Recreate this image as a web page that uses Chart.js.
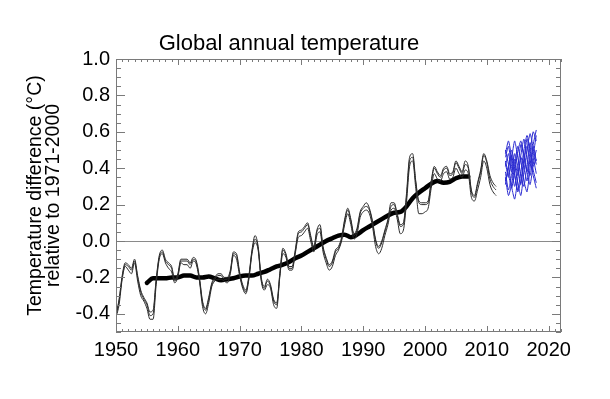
<!DOCTYPE html>
<html>
<head>
<meta charset="utf-8">
<script src="https://cdn.jsdelivr.net/npm/chart.js@4.4.1/dist/chart.umd.min.js"></script>
<style>
  body { margin: 0; background: #fff; }
</style>
</head>
<body>
<canvas id="tempChart" width="610" height="399"></canvas>
<script>
const chartTitle = "Global annual temperature";
const yTitle = ["Temperature difference (°C)", "relative to 1971-2000"];
const xTickValues = [1950, 1960, 1970, 1980, 1990, 2000, 2010, 2020];
const yTickValues = [-0.4, -0.2, 0.0, 0.2, 0.4, 0.6, 0.8, 1.0];

// observed anomalies, three datasets, half-year steps from 1950.0
const obsStart = 1950;
const obsStep = 0.5;
const obsA = [
  -0.41, -0.33, -0.20, -0.13, -0.14, -0.16, -0.11, -0.20, -0.28, -0.32,
  -0.35, -0.41, -0.40, -0.22, -0.09, -0.06, -0.11, -0.13, -0.15, -0.22,
  -0.19, -0.11, -0.11, -0.11, -0.13, -0.10, -0.12, -0.21, -0.34, -0.38,
  -0.32, -0.24, -0.21, -0.19, -0.19, -0.21, -0.21, -0.17, -0.07, -0.08,
  -0.18, -0.25, -0.28, -0.20, -0.06, 0.01, -0.04, -0.21, -0.26, -0.22,
  -0.25, -0.33, -0.35, -0.19, -0.05, -0.08, -0.15, -0.15, -0.06, 0.04,
  0.05, 0.07, 0.09, 0.02, -0.04, 0.05, 0.07, -0.04, -0.10, -0.14,
  -0.12, -0.06, -0.04, 0.01, 0.11, 0.17, 0.11, 0.03, 0.06, 0.15,
  0.18, 0.19, 0.17, 0.10, 0.00, -0.04, -0.01, 0.05, 0.11, 0.19,
  0.20, 0.14, 0.08, 0.09, 0.24, 0.44, 0.46, 0.32, 0.21, 0.20,
  0.20, 0.21, 0.32, 0.40, 0.37, 0.35, 0.39, 0.40, 0.36, 0.37,
  0.43, 0.40, 0.37, 0.42, 0.40, 0.27, 0.24, 0.31, 0.38, 0.47,
  0.43, 0.34, 0.30, 0.28
];
const obsB = [
  -0.42, -0.35, -0.21, -0.14, -0.16, -0.18, -0.12, -0.22, -0.30, -0.33,
  -0.37, -0.43, -0.43, -0.24, -0.10, -0.07, -0.12, -0.15, -0.17, -0.23,
  -0.20, -0.12, -0.13, -0.13, -0.15, -0.11, -0.13, -0.22, -0.36, -0.40,
  -0.34, -0.25, -0.22, -0.21, -0.21, -0.22, -0.23, -0.18, -0.08, -0.10,
  -0.19, -0.26, -0.29, -0.21, -0.07, -0.01, -0.05, -0.22, -0.27, -0.24,
  -0.26, -0.35, -0.37, -0.20, -0.07, -0.09, -0.16, -0.16, -0.07, 0.02,
  0.03, 0.05, 0.07, 0.00, -0.06, 0.03, 0.05, -0.06, -0.12, -0.16,
  -0.14, -0.08, -0.05, 0.00, 0.09, 0.15, 0.09, 0.01, 0.04, 0.13,
  0.16, 0.17, 0.15, 0.08, -0.03, -0.07, -0.04, 0.03, 0.09, 0.17,
  0.18, 0.12, 0.04, 0.06, 0.21, 0.41, 0.44, 0.29, 0.15, 0.15,
  0.16, 0.18, 0.29, 0.37, 0.34, 0.33, 0.37, 0.38, 0.34, 0.35,
  0.40, 0.37, 0.35, 0.39, 0.37, 0.24, 0.22, 0.28, 0.35, 0.44,
  0.40, 0.31, 0.27, 0.25
];
const obsC = [
  -0.40, -0.32, -0.19, -0.12, -0.13, -0.15, -0.10, -0.19, -0.27, -0.31,
  -0.34, -0.39, -0.38, -0.21, -0.08, -0.05, -0.10, -0.12, -0.14, -0.21,
  -0.18, -0.10, -0.10, -0.10, -0.12, -0.09, -0.11, -0.20, -0.33, -0.37,
  -0.31, -0.23, -0.20, -0.18, -0.18, -0.20, -0.20, -0.16, -0.06, -0.07,
  -0.17, -0.24, -0.27, -0.19, -0.05, 0.03, -0.03, -0.20, -0.25, -0.21,
  -0.24, -0.32, -0.34, -0.18, -0.04, -0.07, -0.14, -0.14, -0.05, 0.05,
  0.06, 0.08, 0.10, 0.03, -0.03, 0.06, 0.09, -0.03, -0.09, -0.13,
  -0.11, -0.05, -0.03, 0.02, 0.12, 0.18, 0.12, 0.04, 0.07, 0.16,
  0.19, 0.21, 0.18, 0.11, 0.01, -0.03, 0.00, 0.06, 0.12, 0.21,
  0.21, 0.15, 0.09, 0.10, 0.26, 0.46, 0.48, 0.33, 0.22, 0.21,
  0.21, 0.22, 0.33, 0.41, 0.38, 0.36, 0.40, 0.41, 0.37, 0.38,
  0.44, 0.41, 0.38, 0.44, 0.41, 0.28, 0.25, 0.32, 0.39, 0.48,
  0.44, 0.36, 0.32, 0.30
];

// smoothed mean, yearly from 1955
const meanStart = 1955;
const meanValues = [
  -0.23, -0.205, -0.205, -0.205, -0.20, -0.20, -0.19, -0.19, -0.20, -0.20,
  -0.195, -0.205, -0.215, -0.21, -0.205, -0.195, -0.19, -0.19, -0.18, -0.17,
  -0.155, -0.14, -0.13, -0.115, -0.095, -0.08, -0.06, -0.04, -0.02, 0.00,
  0.015, 0.03, 0.035, 0.02, 0.035, 0.06, 0.08, 0.10, 0.12, 0.14,
  0.155, 0.16, 0.19, 0.235, 0.265, 0.29, 0.315, 0.33, 0.32, 0.325,
  0.345, 0.355, 0.355
];

// forecast members, half-year steps from 2013.0
const fcStart = 2013;
const fcStep = 0.5;
const forecasts = [
  [0.46, 0.52, 0.41, 0.30, 0.40, 0.53, 0.47, 0.38, 0.49, 0.60, 0.55],
  [0.38, 0.28, 0.36, 0.48, 0.41, 0.31, 0.44, 0.56, 0.48, 0.39, 0.32],
  [0.50, 0.42, 0.30, 0.23, 0.34, 0.47, 0.56, 0.45, 0.36, 0.47, 0.58],
  [0.31, 0.41, 0.50, 0.42, 0.32, 0.25, 0.38, 0.50, 0.59, 0.51, 0.42],
  [0.43, 0.35, 0.45, 0.55, 0.46, 0.36, 0.30, 0.42, 0.54, 0.46, 0.37],
  [0.35, 0.25, 0.31, 0.41, 0.52, 0.44, 0.33, 0.27, 0.40, 0.53, 0.61],
  [0.48, 0.55, 0.46, 0.36, 0.28, 0.38, 0.50, 0.58, 0.50, 0.41, 0.45],
  [0.41, 0.48, 0.38, 0.45, 0.36, 0.46, 0.40, 0.33, 0.44, 0.36, 0.29],
  [0.33, 0.40, 0.47, 0.37, 0.27, 0.33, 0.45, 0.52, 0.43, 0.52, 0.44],
  [0.44, 0.37, 0.29, 0.38, 0.49, 0.55, 0.46, 0.38, 0.31, 0.42, 0.50]
];

const FONT = '"Liberation Sans", Arial, sans-serif';

function toPoints(values, start, step) {
  return values.map((v, i) => ({ x: start + i * step, y: v }));
}

const datasets = [];
[obsA, obsB, obsC].forEach((vals) => {
  datasets.push({
    data: toPoints(vals, obsStart, obsStep),
    borderColor: "#2b2b2b",
    borderWidth: 1,
    cubicInterpolationMode: "monotone"
  });
});
datasets.push({
  data: toPoints(meanValues, meanStart, 1),
  borderColor: "#000",
  borderWidth: 4.5,
  borderCapStyle: "round",
  cubicInterpolationMode: "monotone"
});
forecasts.forEach((vals) => {
  datasets.push({
    data: toPoints(vals, fcStart, fcStep),
    borderColor: "#2a2ad0",
    borderWidth: 1,
    tension: 0.2
  });
});

// inward tick marks on all four sides plus the box, like the original plot
const frameTicks = {
  id: "frameTicks",
  afterDatasetsDraw(chart) {
    const { ctx, chartArea: a, scales: { x, y } } = chart;
    ctx.save();
    ctx.strokeStyle = "#7a7a7a";
    ctx.lineWidth = 1;
    ctx.beginPath();
    for (let yr = 1950; yr <= 2022; yr++) {
      const px = Math.round(x.getPixelForValue(yr)) + 0.5;
      const len = yr % 10 === 0 ? 6 : 3;
      ctx.moveTo(px, a.bottom);
      ctx.lineTo(px, a.bottom - len);
      ctx.moveTo(px, a.top);
      ctx.lineTo(px, a.top + len);
    }
    for (let i = -10; i <= 20; i++) {
      const py = Math.round(y.getPixelForValue(i * 0.05)) + 0.5;
      const len = i % 4 === 0 ? 9 : 5;
      ctx.moveTo(a.left, py);
      ctx.lineTo(a.left + len, py);
      ctx.moveTo(a.right, py);
      ctx.lineTo(a.right - len, py);
    }
    ctx.stroke();
    ctx.strokeRect(a.left + 0.5, a.top + 0.5, a.width - 1, a.height - 1);
    ctx.restore();
  },
  afterDraw(chart) {
    const { ctx } = chart;
    ctx.save();
    ctx.font = "22px " + FONT;
    ctx.fillStyle = "#000";
    ctx.textAlign = "center";
    ctx.textBaseline = "alphabetic";
    ctx.fillText(chartTitle, 289, 50);
    ctx.restore();
  }
};

new Chart(document.getElementById("tempChart"), {
  type: "line",
  data: { datasets: datasets },
  options: {
    responsive: false,
    animation: false,
    elements: { point: { radius: 0 } },
    layout: { padding: { top: 59, right: 49, bottom: 0, left: 0 } },
    plugins: {
      legend: { display: false },
      tooltip: { enabled: false },
      title: { display: false }
    },
    scales: {
      x: {
        type: "linear",
        min: 1950,
        max: 2022,
        afterBuildTicks: (scale) => {
          scale.ticks = xTickValues.map((v) => ({ value: v }));
        },
        afterFit: (scale) => {
          scale.height = 67;
        },
        grid: { display: false, drawTicks: false },
        border: { display: false },
        ticks: {
          autoSkip: false,
          maxRotation: 0,
          padding: 6,
          color: "#000",
          font: { family: FONT, size: 20 },
          callback: (v) => String(v)
        }
      },
      y: {
        min: -0.5,
        max: 1.0,
        afterBuildTicks: (scale) => {
          scale.ticks = yTickValues.map((v) => ({ value: v }));
        },
        afterFit: (scale) => {
          scale.width = 116;
        },
        grid: {
          drawTicks: false,
          color: (c) => (c.tick && c.tick.value === 0 ? "#8a8a8a" : "rgba(0,0,0,0)")
        },
        border: { display: false },
        ticks: {
          padding: 6,
          color: "#000",
          font: { family: FONT, size: 20 },
          callback: (v) => v.toFixed(1)
        },
        title: {
          display: true,
          text: yTitle,
          color: "#000",
          font: { family: FONT, size: 19.5, lineHeight: 0.92 },
          padding: { top: 27, bottom: 0 }
        }
      }
    }
  },
  plugins: [frameTicks]
});
</script>
</body>
</html>
